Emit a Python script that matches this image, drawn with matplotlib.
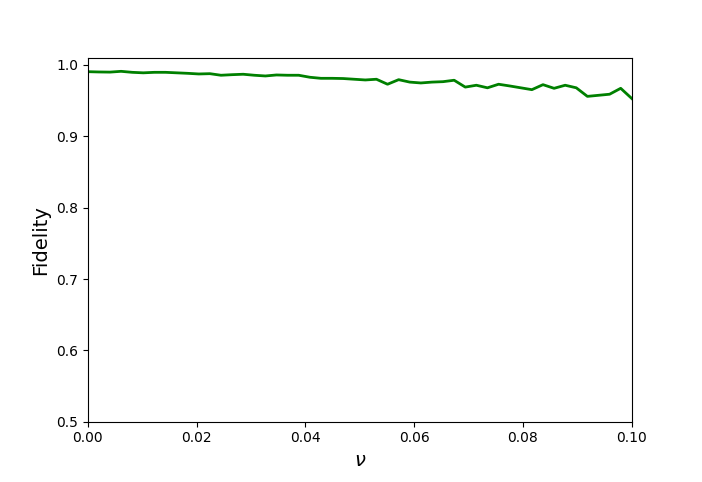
import numpy as np
import matplotlib
matplotlib.use("Agg")
import matplotlib.pyplot as plt

# fidelity vs noise parameter nu
nu = np.linspace(0, 0.1, 50)
fidelity = [
    0.9906, 0.9902, 0.9900, 0.9911, 0.9897, 0.9890, 0.9897, 0.9897, 0.9890, 0.9883,
    0.9874, 0.9878, 0.9856, 0.9864, 0.9870, 0.9856, 0.9846, 0.9860, 0.9856, 0.9856,
    0.9828, 0.9813, 0.9813, 0.9810, 0.9800, 0.9790, 0.9800, 0.9730, 0.9794, 0.9760,
    0.9748, 0.9760, 0.9766, 0.9786, 0.9690, 0.9716, 0.9680, 0.9730, 0.9706, 0.9680,
    0.9654, 0.9724, 0.9673, 0.9716, 0.9680, 0.9560, 0.9575, 0.9590, 0.9673, 0.9530,
]

fig, ax = plt.subplots(figsize=(7.02, 4.82), dpi=100)
fig.subplots_adjust(left=0.125, right=0.9, bottom=0.125, top=0.88)

ax.plot(nu, fidelity, color="green", linewidth=2)
ax.set_xlim(0, 0.1)
ax.set_ylim(0.5, 1.01)
ax.set_xlabel(r"$\nu$", fontsize=14)
ax.set_ylabel("Fidelity", fontsize=14)

plt.savefig("out.png", dpi=100)
plt.close()
